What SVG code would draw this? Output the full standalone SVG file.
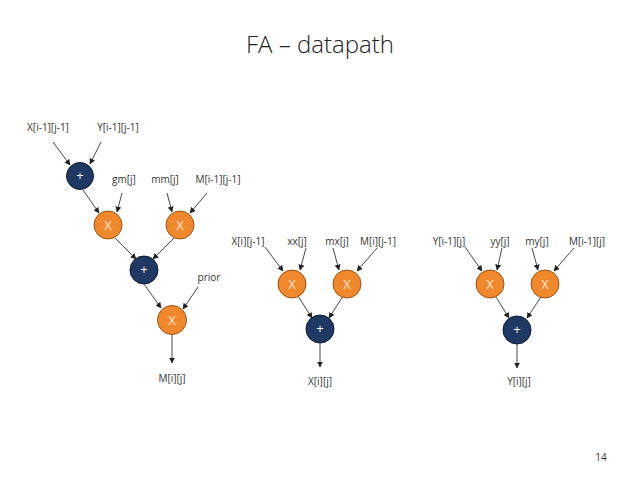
<svg xmlns="http://www.w3.org/2000/svg" width="638" height="479" viewBox="0 0 638 479">
<defs>
<marker id="ah" viewBox="0 0 10 10" refX="9" refY="5" markerWidth="6" markerHeight="6" orient="auto" markerUnits="userSpaceOnUse">
<path d="M0,0 L10,5 L0,10 z" fill="#222"/>
</marker>
<style>
.lbl{font-family:"Open Sans","Liberation Sans",sans-serif;font-size:10px;fill:#333;text-anchor:middle}
.mul{fill:#F0882E;stroke:#9A5416;stroke-width:1}
.add{fill:#1F3864;stroke:#111B33;stroke-width:1}
.sym{font-family:"Open Sans","Liberation Sans",sans-serif;font-size:13px;text-anchor:middle;dominant-baseline:central}
.mx{fill:#FCE3CF}
.px{fill:#FFFFFF}
.c{stroke:#333;stroke-width:0.9;fill:none;marker-end:url(#ah)}
</style>
</defs>
<rect width="638" height="479" fill="#fff"/>
<text x="320" y="53" font-family="Open Sans, Liberation Sans, sans-serif" font-weight="300" font-size="24" fill="#222" text-anchor="middle">FA – datapath</text>
<text x="601" y="461" font-family="Open Sans, Liberation Sans, sans-serif" font-size="10" fill="#333" text-anchor="middle">14</text>

<g id="connectors">
<line class="c" x1="53" y1="142" x2="70" y2="165"/>
<line class="c" x1="101" y1="142" x2="90" y2="164"/>
<line class="c" x1="83" y1="190" x2="99" y2="213"/>
<line class="c" x1="122" y1="193" x2="117" y2="212"/>
<line class="c" x1="167" y1="193" x2="172" y2="212"/>
<line class="c" x1="207" y1="193" x2="190" y2="213"/>
<line class="c" x1="115" y1="238" x2="136" y2="259"/>
<line class="c" x1="174" y1="238" x2="153" y2="259"/>
<line class="c" x1="144" y1="284" x2="161" y2="308"/>
<line class="c" x1="198" y1="287" x2="183" y2="309"/>
<line class="c" x1="172" y1="334" x2="172" y2="363"/>

<line class="c" x1="265" y1="247" x2="283" y2="271"/>
<line class="c" x1="306" y1="248" x2="300" y2="270"/>
<line class="c" x1="333" y1="248" x2="339" y2="270"/>
<line class="c" x1="377" y1="248" x2="357" y2="271"/>
<line class="c" x1="298" y1="296" x2="312" y2="318"/>
<line class="c" x1="343" y1="296" x2="329" y2="318"/>
<line class="c" x1="320" y1="343" x2="320" y2="367"/>

<line class="c" x1="465" y1="247" x2="482" y2="271"/>
<line class="c" x1="502" y1="248" x2="497" y2="270"/>
<line class="c" x1="532" y1="248" x2="538" y2="270"/>
<line class="c" x1="574" y1="248" x2="554" y2="271"/>
<line class="c" x1="496" y1="297" x2="509" y2="318"/>
<line class="c" x1="541" y1="297" x2="527" y2="318"/>
<line class="c" x1="517" y1="344" x2="517" y2="368"/>
</g>

<g id="lbl-left">
<text class="lbl" x="48" y="131">X[i-1][j-1]</text>
<text class="lbl" x="118" y="131">Y[i-1][j-1]</text>
<text class="lbl" x="124" y="183">gm[j]</text>
<text class="lbl" x="165" y="183">mm[j]</text>
<text class="lbl" x="218" y="183">M[i-1][j-1]</text>
<text class="lbl" x="209" y="281">prior</text>
<text class="lbl" x="172" y="382">M[i][j]</text>
</g>
<g id="lbl-mid">
<text class="lbl" x="248" y="245">X[i][j-1]</text>
<text class="lbl" x="297" y="245">xx[j]</text>
<text class="lbl" x="337" y="245">mx[j]</text>
<text class="lbl" x="378" y="245">M[i][j-1]</text>
<text class="lbl" x="320" y="385">X[i][j]</text>
</g>
<g id="lbl-right">
<text class="lbl" x="449" y="245">Y[i-1][j]</text>
<text class="lbl" x="500" y="245">yy[j]</text>
<text class="lbl" x="537" y="245">my[j]</text>
<text class="lbl" x="587" y="245">M[i-1][j]</text>
<text class="lbl" x="519" y="385">Y[i][j]</text>
</g>

<g id="add1"><circle class="add" cx="80" cy="176" r="13.5"/><text class="sym px" x="80" y="175">+</text></g>
<g id="mul1"><circle class="mul" cx="108" cy="225" r="14"/><text class="sym mx" x="108" y="225">X</text></g>
<g id="mul2"><circle class="mul" cx="180" cy="225" r="14"/><text class="sym mx" x="180" y="225">X</text></g>
<g id="add2"><circle class="add" cx="144" cy="270" r="14"/><text class="sym px" x="144" y="269">+</text></g>
<g id="mul3"><circle class="mul" cx="172" cy="320" r="14.5"/><text class="sym mx" x="172" y="320">X</text></g>

<g id="mul4"><circle class="mul" cx="292" cy="284" r="14"/><text class="sym mx" x="292" y="284">X</text></g>
<g id="mul5"><circle class="mul" cx="347" cy="284" r="14"/><text class="sym mx" x="347" y="284">X</text></g>
<g id="add3"><circle class="add" cx="320" cy="329" r="14"/><text class="sym px" x="320" y="328">+</text></g>

<g id="mul6"><circle class="mul" cx="490" cy="284" r="14"/><text class="sym mx" x="490" y="284">X</text></g>
<g id="mul7"><circle class="mul" cx="545" cy="284" r="14"/><text class="sym mx" x="545" y="284">X</text></g>
<g id="add4"><circle class="add" cx="517" cy="330" r="14"/><text class="sym px" x="517" y="329">+</text></g>
</svg>
